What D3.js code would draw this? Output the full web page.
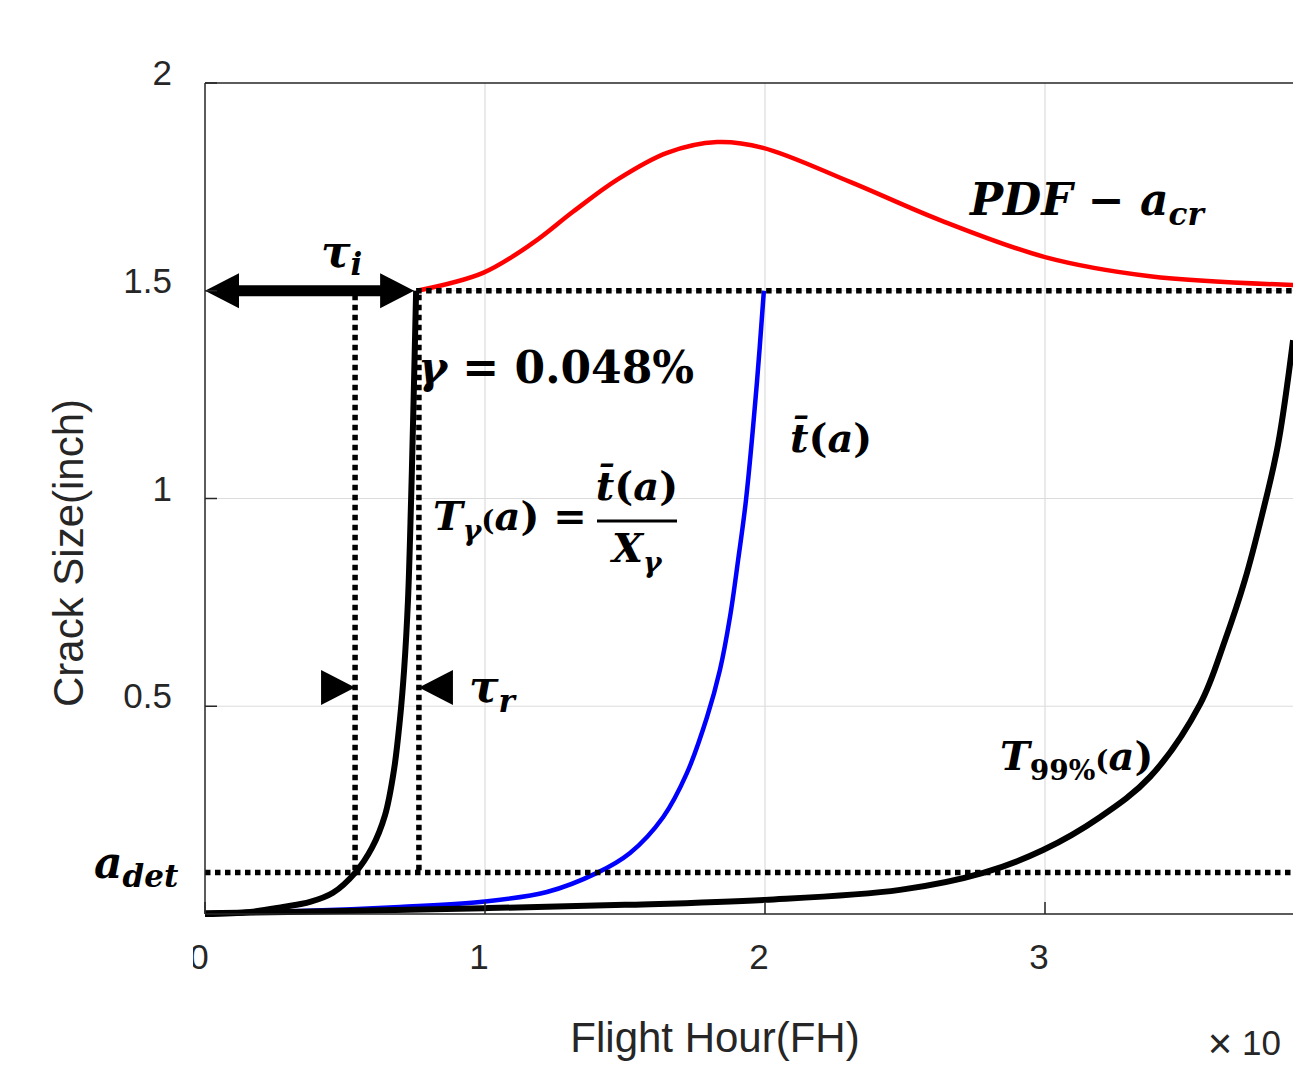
<!DOCTYPE html>
<html>
<head>
<meta charset="utf-8">
<script src="https://cdn.jsdelivr.net/npm/d3@7"></script>
<style>
  body { margin: 0; background: #fff; }
  .tick-label { font-family: "Liberation Sans", Arial, sans-serif; font-size: 35px; fill: #262626; }
  .axis-title { font-family: "Liberation Sans", Arial, sans-serif; font-size: 42px; fill: #262626; }
  .math { font-family: "DejaVu Serif", serif; font-weight: bold; fill: #000; }
  .it { font-style: italic; }
</style>
</head>
<body>
<div id="chart"></div>
<script>
// axis ticks
const xTicks = [0, 1, 2, 3];
const xTickLabels = ["0", "1", "2", "3"];
const yTicks = [0.5, 1, 1.5, 2];
const yTickLabels = ["0.5", "1", "1.5", "2"];

// T_gamma(a) curve (black, left)
const tGammaX = [0, 0.161, 0.279, 0.375, 0.457, 0.536, 0.596, 0.643, 0.675, 0.696, 0.711, 0.725, 0.736, 0.745, 0.754];
const tGammaY = [0, 0.005, 0.017, 0.029, 0.051, 0.099, 0.159, 0.238, 0.347, 0.467, 0.587, 0.756, 0.996, 1.237, 1.5];

// mean curve t(a) (blue)
const meanX = [0, 0.339, 0.696, 0.982, 1.221, 1.4, 1.518, 1.636, 1.721, 1.793, 1.839, 1.875, 1.904, 1.932, 1.971, 1.996];
const meanY = [0.002, 0.007, 0.017, 0.029, 0.053, 0.099, 0.147, 0.233, 0.339, 0.474, 0.587, 0.715, 0.852, 0.996, 1.278, 1.5];

// T_99%(a) curve (black, right)
const t99X = [0, 0.5, 1.0, 1.5, 2.0, 2.482, 2.779, 2.993, 3.196, 3.375, 3.554, 3.643, 3.714, 3.775, 3.832, 3.886];
const t99Y = [0.002, 0.007, 0.014, 0.022, 0.034, 0.058, 0.099, 0.154, 0.233, 0.330, 0.505, 0.659, 0.804, 0.960, 1.129, 1.381];

// PDF of critical crack size (red)
const pdfX = [0.757, 0.993, 1.171, 1.314, 1.471, 1.65, 1.829, 1.993, 2.304, 2.625, 3.0, 3.375, 3.886];
const pdfY = [1.5, 1.543, 1.615, 1.69, 1.767, 1.832, 1.858, 1.844, 1.762, 1.67, 1.581, 1.535, 1.514];

// reference levels
const aDet = 0.1;
const aCr = 1.5;
const tauIEnd = 0.754;
const tauRLeft = 0.536;
const tauRRight = 0.764;
const tauRLevel = 0.545;

const width = 1293, height = 1068;

const svg = d3.select("#chart").append("svg")
  .attr("width", width)
  .attr("height", height);

const x = d3.scaleLinear().domain([0, 4]).range([205, 1325]);
const y = d3.scaleLinear().domain([0, 2]).range([914, 83]);

// grid
svg.append("g")
  .selectAll("line")
  .data(xTicks.slice(1))
  .join("line")
  .attr("x1", d => x(d)).attr("x2", d => x(d))
  .attr("y1", y(0)).attr("y2", y(2))
  .attr("stroke", "#dcdcdc").attr("stroke-width", 1.2);

svg.append("g")
  .selectAll("line")
  .data(yTicks.slice(0, -1))
  .join("line")
  .attr("x1", x(0)).attr("x2", width)
  .attr("y1", d => y(d)).attr("y2", d => y(d))
  .attr("stroke", "#dcdcdc").attr("stroke-width", 1.2);

// curves
const line = d3.line()
  .x(d => x(d[0]))
  .y(d => y(d[1]))
  .curve(d3.curveCatmullRom.alpha(0.5));

function drawCurve(xs, ys, color, w) {
  svg.append("path")
    .datum(d3.zip(xs, ys))
    .attr("fill", "none")
    .attr("stroke", color)
    .attr("stroke-width", w)
    .attr("stroke-linejoin", "round")
    .attr("d", line);
}

drawCurve(pdfX, pdfY, "#ff0000", 4.5);
drawCurve(meanX, meanY, "#0000ff", 4.5);
drawCurve(t99X, t99Y, "#000", 6);
drawCurve(tGammaX, tGammaY, "#000", 6);

// dotted reference lines
const dotted = svg.append("g")
  .attr("stroke", "#000")
  .attr("stroke-width", 5.5)
  .attr("stroke-dasharray", "5.5,4.5");

dotted.append("line")
  .attr("x1", x(tauIEnd)).attr("x2", width)
  .attr("y1", y(aCr)).attr("y2", y(aCr));
dotted.append("line")
  .attr("x1", x(0)).attr("x2", width)
  .attr("y1", y(aDet)).attr("y2", y(aDet));
[tauRLeft, tauRRight].forEach(v => {
  dotted.append("line")
    .attr("x1", x(v)).attr("x2", x(v))
    .attr("y1", y(aCr) + 4).attr("y2", y(aDet));
});

// tau_i double arrow
svg.append("line")
  .attr("x1", x(0) + 30).attr("x2", x(tauIEnd) - 30)
  .attr("y1", y(aCr)).attr("y2", y(aCr))
  .attr("stroke", "#000").attr("stroke-width", 11);

function triangle(tipX, tipY, dir) {
  // dir = 1 points right, -1 points left
  const len = 34, half = 17.5;
  svg.append("path")
    .attr("d", `M${tipX},${tipY} L${tipX - dir * len},${tipY - half} L${tipX - dir * len},${tipY + half} Z`)
    .attr("fill", "#000");
}
triangle(x(0), y(aCr), -1);
triangle(x(tauIEnd) - 2, y(aCr), 1);

// tau_r markers
triangle(x(tauRLeft), y(tauRLevel), 1);
triangle(x(tauRRight), y(tauRLevel), -1);

// axes
const axisColor = "#262626";
const ax = svg.append("g").attr("stroke", axisColor).attr("stroke-width", 1.5);
ax.append("line").attr("x1", x(0)).attr("x2", x(0)).attr("y1", y(0)).attr("y2", y(2));
ax.append("line").attr("x1", x(0)).attr("x2", width).attr("y1", y(2)).attr("y2", y(2));
ax.append("line").attr("x1", x(0)).attr("x2", width).attr("y1", y(0)).attr("y2", y(0));
ax.selectAll(".xt").data(xTicks).join("line")
  .attr("x1", d => x(d)).attr("x2", d => x(d))
  .attr("y1", y(0)).attr("y2", y(0) - 12);
ax.selectAll(".yt").data(yTicks).join("line")
  .attr("x1", x(0)).attr("x2", x(0) + 12)
  .attr("y1", d => y(d)).attr("y2", d => y(d));

// tick labels (left side of figure is cropped)
svg.append("clipPath").attr("id", "crop")
  .append("rect").attr("x", 193).attr("y", 0).attr("width", width).attr("height", height);

svg.append("g").attr("clip-path", "url(#crop)")
  .selectAll("text")
  .data(xTicks)
  .join("text")
  .attr("class", "tick-label")
  .attr("x", d => x(d) - 6)
  .attr("y", 969)
  .attr("text-anchor", "middle")
  .text((d, i) => xTickLabels[i]);

svg.append("g")
  .selectAll("text")
  .data(yTicks)
  .join("text")
  .attr("class", "tick-label")
  .attr("x", 172)
  .attr("y", d => y(d) + 2)
  .attr("text-anchor", "end")
  .text((d, i) => yTickLabels[i]);

// axis titles
svg.append("text")
  .attr("class", "axis-title")
  .attr("transform", "translate(83,553) rotate(-90)")
  .attr("text-anchor", "middle")
  .text("Crack Size(inch)");

svg.append("text")
  .attr("class", "axis-title")
  .attr("x", 715).attr("y", 1052)
  .attr("text-anchor", "middle")
  .text("Flight Hour(FH)");

// exponent marker (partly outside the cropped figure)
svg.append("text")
  .attr("class", "tick-label")
  .style("font-size", "42px")
  .attr("x", 1220).attr("y", 1058)
  .attr("text-anchor", "middle")
  .text("\u00d7");
svg.append("text")
  .attr("class", "tick-label")
  .attr("x", 1242).attr("y", 1055)
  .text("10");

// math annotations
function mathLabel(px, py, parts, size) {
  const t = svg.append("text").attr("class", "math")
    .attr("x", px).attr("y", py)
    .style("font-size", size + "px");
  parts.forEach(p => {
    const s = t.append("tspan").text(p.t);
    if (p.it) s.attr("class", "it");
    if (p.sub) s.style("font-size", Math.round(size * 0.7) + "px").attr("dy", p.sub);
    if (p.dx) s.attr("dx", p.dx);
  });
  return t;
}

mathLabel(321, 267, [{t: "\u03c4", it: true}, {t: "i", it: true, sub: 8}], 44);
mathLabel(970, 215, [
  {t: "PDF", it: true}, {t: " \u2212 "}, {t: "a", it: true}, {t: "cr", it: true, sub: 10}
], 44);
mathLabel(418, 383, [{t: "\u03b3", it: true}, {t: " = 0.048%"}], 44);
mathLabel(790, 452, [{t: "t\u0304", it: true}, {t: "("}, {t: "a", it: true}, {t: ")"}], 40);

mathLabel(433, 530, [
  {t: "T", it: true}, {t: "\u03b3", it: true, sub: 10}, {t: "(", sub: -10}, {t: "a", it: true}, {t: ") ="}
], 40);
mathLabel(637, 500, [{t: "t\u0304", it: true}, {t: "("}, {t: "a", it: true}, {t: ")"}], 40)
  .attr("text-anchor", "middle");
svg.append("line")
  .attr("x1", 597).attr("x2", 677).attr("y1", 521).attr("y2", 521)
  .attr("stroke", "#000").attr("stroke-width", 3);
mathLabel(612, 562, [{t: "X", it: true}, {t: "\u03b3", it: true, sub: 10}], 40);

mathLabel(469, 702, [{t: "\u03c4", it: true}, {t: "r", it: true, sub: 10}], 44);
mathLabel(1000, 770, [
  {t: "T", it: true}, {t: "99%", sub: 10}, {t: "(", sub: -10}, {t: "a", it: true}, {t: ")"}
], 40);
mathLabel(94, 878, [{t: "a", it: true}, {t: "det", it: true, sub: 9}], 44);
</script>
</body>
</html>
